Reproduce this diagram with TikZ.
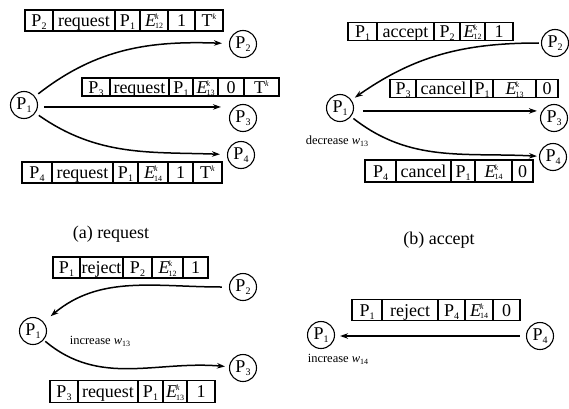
\documentclass[tikz,border=0pt]{standalone}
\usepackage{fontspec}
\setmainfont{Liberation Serif}
\usetikzlibrary{arrows.meta}
\newcommand\ssz{\fontsize{10}{10}\selectfont}
\newcommand\tsz{\fontsize{8}{8}\selectfont}
\newcommand\Pn[1]{P\raisebox{-3pt}{\ssz #1}}
\newcommand\Ek[1]{\textit{E}\kern-1pt\rlap{\raisebox{7pt}{\tsz\textit{k}}}\raisebox{-2.5pt}{\tsz #1}}
\newcommand\Tk{T\raisebox{7pt}{\tsz\textit{k}}}
\newcommand\mcell[6]{\node[cell,minimum width={#3-#2},minimum height=#5] (#1) at ({(#2+#3)/2},#4) {#6};}
\begin{document}
\begin{tikzpicture}[x=1pt,y=1pt,
  cell/.style={draw, line width=1.1pt, inner sep=0pt, text height=14pt, text depth=2pt, font=\fontsize{18}{18}\selectfont},
  proc/.style={draw, circle, line width=1.1pt, inner sep=0pt, minimum size=27pt, font=\fontsize{18}{18}\selectfont},
  arr/.style={line width=1.5pt, -{Stealth[length=8pt,width=5.5pt]}},
  lbl/.style={font=\fontsize{12.5}{12.5}\selectfont, inner sep=0pt},
  capt/.style={font=\fontsize{18}{18}\selectfont, inner sep=0pt}]
\fill[white] (0,0) rectangle (569,408);
\useasboundingbox (0,0) rectangle (569,408);

% ---------- (a) request ----------
\node[proc] (a1) at (24,303) {\Pn{1}};
\node[proc] (a2) at (243,364) {\Pn{2}};
\node[proc] (a3) at (243,290) {\Pn{3}};
\node[proc] (a4) at (241,253) {\Pn{4}};

\mcell{ra2-1}{25}{53}{387.5}{21}{\Pn{2}}
\mcell{ra2-2}{53}{115}{387.5}{21}{request}
\mcell{ra2-3}{115}{140}{387.5}{21}{\Pn{1}}
\mcell{ra2-4}{140}{168}{387.5}{21}{\Ek{12}}
\mcell{ra2-5}{168}{195}{387.5}{21}{1}
\mcell{ra2-6}{195}{223}{387.5}{21}{\Tk}

\mcell{ra3-1}{82}{110}{321}{18}{\Pn{3}}
\mcell{ra3-2}{110}{169}{321}{18}{request}
\mcell{ra3-3}{169}{193}{321}{18}{\Pn{1}}
\mcell{ra3-4}{193}{218}{321}{18}{\Ek{13}}
\mcell{ra3-5}{218}{244}{321}{18}{0}
\mcell{ra3-6}{244}{279}{321}{18}{\Tk}

\mcell{ra4-1}{22}{52}{235.5}{21}{\Pn{4}}
\mcell{ra4-2}{52}{113}{235.5}{21}{request}
\mcell{ra4-3}{113}{138}{235.5}{21}{\Pn{1}}
\mcell{ra4-4}{138}{168}{235.5}{21}{\Ek{14}}
\mcell{ra4-5}{168}{193}{235.5}{21}{1}
\mcell{ra4-6}{193}{222}{235.5}{21}{\Tk}

\draw[arr, shorten <=4pt, shorten >=7pt] (a1) to[out=38, in=178] (a2);
\draw[arr, shorten <=6pt, shorten >=8pt] (a1.-8) -- (a1.-8 -| a3.west);
\draw[arr, shorten <=4pt, shorten >=7pt] (a1) to[out=-35, in=178] (a4);
\node[capt] (capa) at (111,174) {(a) request};

% ---------- (b) accept ----------
\node[proc] (b1) at (340,300) {\Pn{1}};
\node[proc] (b2) at (555,365) {\Pn{2}};
\node[proc] (b3) at (554,290) {\Pn{3}};
\node[proc] (b4) at (553,251) {\Pn{4}};

\mcell{rb2-1}{348}{377}{376.5}{18}{\Pn{1}}
\mcell{rb2-2}{377}{434}{376.5}{18}{accept}
\mcell{rb2-3}{434}{460}{376.5}{18}{\Pn{2}}
\mcell{rb2-4}{460}{485}{376.5}{18}{\Ek{12}}
\mcell{rb2-5}{485}{513}{376.5}{18}{1}

\mcell{rb3-1}{390}{416}{319.5}{18}{\Pn{3}}
\mcell{rb3-2}{416}{471}{319.5}{18}{cancel}
\mcell{rb3-3}{471}{493}{319.5}{18}{\Pn{1}}
\mcell{rb3-4}{493}{536}{319.5}{18}{\Ek{13}}
\mcell{rb3-5}{536}{558}{319.5}{18}{0}

\mcell{rb4-1}{365}{396}{237}{22}{\Pn{4}}
\mcell{rb4-2}{396}{451}{237}{22}{cancel}
\mcell{rb4-3}{451}{475}{237}{22}{\Pn{1}}
\mcell{rb4-4}{475}{512}{237}{22}{\Ek{14}}
\mcell{rb4-5}{512}{533}{237}{22}{0}

\draw[arr, shorten <=2pt, shorten >=4pt] (b2) to[out=180, in=35] (b1);
\draw[arr, shorten <=9pt, shorten >=3pt] (b1.-12) -- (b1.-12 -| b3.west);
\draw[arr, shorten <=3pt, shorten >=2pt] (b1) to[out=-38, in=177] (b4);
\node[lbl] (dec) at (337,266.5) {decrease \textit{w}\raisebox{-2pt}{\tsz 13}};
\node[capt] (capb) at (439,168) {(b) accept};

% ---------- (c) reject / request ----------
\node[proc] (c1) at (33,77) {\Pn{1}};
\node[proc] (c2) at (243,121) {\Pn{2}};
\node[proc] (c3) at (243,40) {\Pn{3}};

\mcell{rc2-1}{53}{80}{140.5}{21}{\Pn{1}}
\mcell{rc2-2}{80}{123}{140.5}{21}{reject}
\mcell{rc2-3}{123}{152}{140.5}{21}{\Pn{2}}
\mcell{rc2-4}{152}{183}{140.5}{21}{\Ek{12}}
\mcell{rc2-5}{183}{208}{140.5}{21}{1}

\mcell{rc3-1}{50}{78}{16.5}{22}{\Pn{3}}
\mcell{rc3-2}{78}{138}{16.5}{22}{request}
\mcell{rc3-3}{138}{163}{16.5}{22}{\Pn{1}}
\mcell{rc3-4}{163}{187}{16.5}{22}{\Ek{13}}
\mcell{rc3-5}{187}{215}{16.5}{22}{1}

\draw[arr, shorten <=7pt, shorten >=9pt] (c2) to[out=180, in=40] (c1);
\draw[arr, shorten <=2pt, shorten >=4pt] (c1) to[out=-40, in=175] (c3);
\node[lbl] (inc13) at (100,67) {increase \textit{w}\raisebox{-2pt}{\tsz 13}};

% ---------- (d) reject ----------
\node[proc] (d1) at (321,73) {\Pn{1}};
\node[proc] (d4) at (540,72) {\Pn{4}};

\mcell{rd-1}{352}{382}{98}{21}{\Pn{1}}
\mcell{rd-2}{382}{438}{98}{21}{reject}
\mcell{rd-3}{438}{465}{98}{21}{\Pn{4}}
\mcell{rd-4}{465}{493}{98}{21}{\Ek{14}}
\mcell{rd-5}{493}{520}{98}{21}{0}

\draw[arr, shorten <=6pt, shorten >=5pt] (d4.west) -- (d4.west -| d1.east);
\node[lbl] (inc14) at (338,48.5) {increase \textit{w}\raisebox{-2pt}{\tsz 14}};
\end{tikzpicture}
\end{document}
